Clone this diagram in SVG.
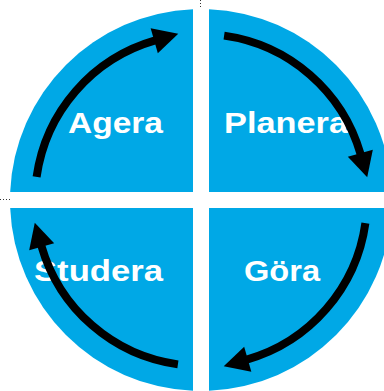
<svg xmlns="http://www.w3.org/2000/svg" width="384" height="391" viewBox="0 0 384 391">
  <style>
    .q { fill: #00A8E6; }
    .lbl { fill: #FFFFFF; font-family: "Liberation Sans", Arial, sans-serif; font-weight: bold; font-size: 29px; }
    .arc { fill: none; stroke: #000000; stroke-width: 8; marker-end: url(#head); }
    .dot { stroke: #333333; stroke-width: 1; stroke-dasharray: 1 2; fill: none; }
  </style>
  <defs>
    <marker id="head" markerUnits="userSpaceOnUse" markerWidth="25" markerHeight="26" viewBox="0 0 25 26" refX="1" refY="13" orient="auto" overflow="visible">
      <path d="M0,0 L25,13 L0,26 Z" fill="#000000"/>
    </marker>
  </defs>
  <rect width="384" height="391" fill="#FFFFFF"/>
  <line class="dot" x1="200.5" y1="0" x2="200.5" y2="9"/>
  <line class="dot" x1="0" y1="199.5" x2="10" y2="199.5"/>
  <g id="agera">
    <path class="q" d="M193,192 L193,9.17 A191,191 0 0 0 10.17,192 Z"/>
    <text class="lbl" x="68" y="133" textLength="95" lengthAdjust="spacingAndGlyphs">Agera</text>
  </g>
  <g id="planera">
    <path class="q" d="M209,192 L209,9.17 A191,191 0 0 1 391.83,192 Z"/>
    <text class="lbl" x="224" y="133" textLength="124" lengthAdjust="spacingAndGlyphs">Planera</text>
  </g>
  <g id="gora">
    <path class="q" d="M209,208 L391.83,208 A191,191 0 0 1 209,390.83 Z"/>
    <text class="lbl" x="244" y="281" textLength="76" lengthAdjust="spacingAndGlyphs">Göra</text>
  </g>
  <g id="studera">
    <path class="q" d="M193,208 L193,390.83 A191,191 0 0 1 10.17,208 Z"/>
    <text class="lbl" x="34" y="281" textLength="129" lengthAdjust="spacingAndGlyphs">Studera</text>
  </g>
  <g id="connectors">
    <path class="arc" d="M36.6,176.9 A166,166 0 0 1 155.2,40.4"/>
    <path class="arc" d="M224.1,35.6 A166,166 0 0 1 360.6,154.2"/>
    <path class="arc" d="M365.4,223.1 A166,166 0 0 1 246.8,359.6"/>
    <path class="arc" d="M177.9,364.4 A166,166 0 0 1 41.4,245.8"/>
  </g>
</svg>
